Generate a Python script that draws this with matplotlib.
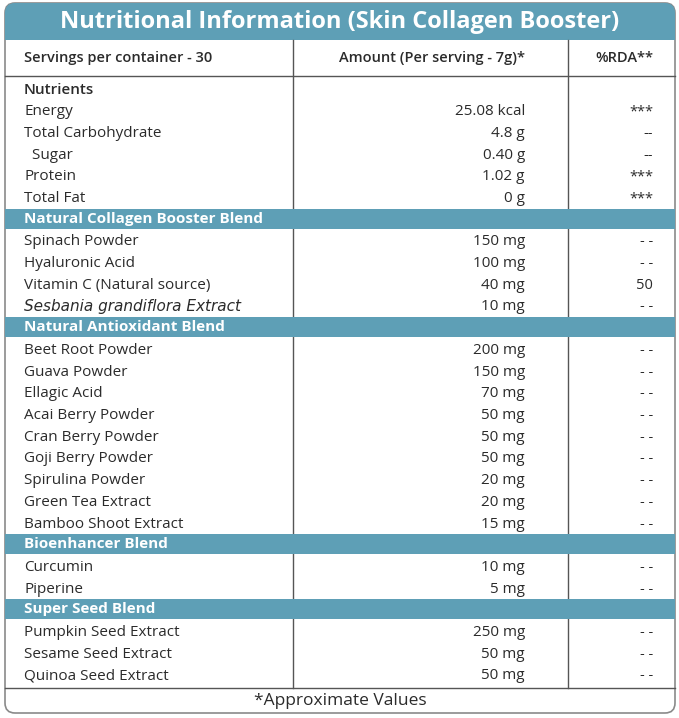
import matplotlib.pyplot as plt
from matplotlib.patches import FancyBboxPatch, Rectangle

plt.rcParams['font.family'] = ['Open Sans', 'DejaVu Sans']

title = "Nutritional Information (Skin Collagen Booster)"
headers = ["Servings per container - 30", "Amount (Per serving - 7g)*", "%RDA**"]

# (name, amount, rda); amount None marks a section bar
rows = [
    ("Nutrients", "", ""),
    ("Energy", "25.08 kcal", "***"),
    ("Total Carbohydrate", "4.8 g", "--"),
    ("  Sugar", "0.40 g", "--"),
    ("Protein", "1.02 g", "***"),
    ("Total Fat", "0 g", "***"),
    ("Natural Collagen Booster Blend", None, None),
    ("Spinach Powder", "150 mg", "- -"),
    ("Hyaluronic Acid", "100 mg", "- -"),
    ("Vitamin C (Natural source)", "40 mg", "50"),
    ("Sesbania grandiflora Extract", "10 mg", "- -"),
    ("Natural Antioxidant Blend", None, None),
    ("Beet Root Powder", "200 mg", "- -"),
    ("Guava Powder", "150 mg", "- -"),
    ("Ellagic Acid", "70 mg", "- -"),
    ("Acai Berry Powder", "50 mg", "- -"),
    ("Cran Berry Powder", "50 mg", "- -"),
    ("Goji Berry Powder", "50 mg", "- -"),
    ("Spirulina Powder", "20 mg", "- -"),
    ("Green Tea Extract", "20 mg", "- -"),
    ("Bamboo Shoot Extract", "15 mg", "- -"),
    ("Bioenhancer Blend", None, None),
    ("Curcumin", "10 mg", "- -"),
    ("Piperine", "5 mg", "- -"),
    ("Super Seed Blend", None, None),
    ("Pumpkin Seed Extract", "250 mg", "- -"),
    ("Sesame Seed Extract", "50 mg", "- -"),
    ("Quinoa Seed Extract", "50 mg", "- -"),
]
footer = "*Approximate Values"

teal = "#5e9fb6"
dark = "#2b2b2b"

fig = plt.figure(figsize=(6.79, 7.18), dpi=100)
ax = fig.add_axes([0, 0, 1, 1])
ax.set_xlim(0, 679)
ax.set_ylim(718, 0)
ax.axis("off")

# outer frame and title bar
ax.add_patch(FancyBboxPatch((5, 3), 670, 710, boxstyle="round,pad=0,rounding_size=10",
                            fc="white", ec="#8a8a8a", lw=1.2))
ax.add_patch(FancyBboxPatch((5, 3), 670, 37, boxstyle="round,pad=0,rounding_size=10",
                            fc=teal, ec="none"))
ax.add_patch(Rectangle((5, 20), 670, 20, fc=teal, ec="none"))
ax.text(340, 22, title, color="white", fontsize=17, fontweight="bold",
        ha="center", va="center")

# header
ax.text(24, 58, headers[0], fontsize=10.5, fontweight="semibold", color=dark, va="center")
ax.text(525, 58, headers[1], fontsize=10.5, fontweight="semibold", color=dark, va="center", ha="right")
ax.text(653, 58, headers[2], fontsize=10.5, fontweight="semibold", color=dark, va="center", ha="right")
ax.plot([5, 675], [76, 76], color="#555555", lw=1)
ax.plot([5, 675], [688, 688], color="#555555", lw=1)
for x in (293, 568):
    ax.plot([x, x], [40, 688], color="#555555", lw=1)

step = 21.7
for i, (name, amt, rda) in enumerate(rows):
    y = 88.5 + step * i
    if amt is None:
        ax.add_patch(Rectangle((5, y - 10), 670, 20, fc=teal, ec="none", zorder=3))
        ax.text(24, y, name, color="white", fontsize=11, fontweight="bold", va="center", zorder=4)
        continue
    style = "italic" if name.startswith("Sesbania") else "normal"
    weight = "semibold" if name == "Nutrients" else "normal"
    fam = ['DejaVu Sans'] if style == "italic" else None
    ax.text(24, y + 1.5, name, fontsize=11, color=dark, va="center", style=style,
            fontweight=weight, family=fam)
    ax.text(525, y + 1.5, amt, fontsize=11, color=dark, va="center", ha="right")
    ax.text(653, y + 1.5, rda, fontsize=10.5, color=dark, va="center", ha="right")

ax.text(340, 701, footer, fontsize=12.5, color=dark, ha="center", va="center")

fig.savefig("out.png", dpi=100)
